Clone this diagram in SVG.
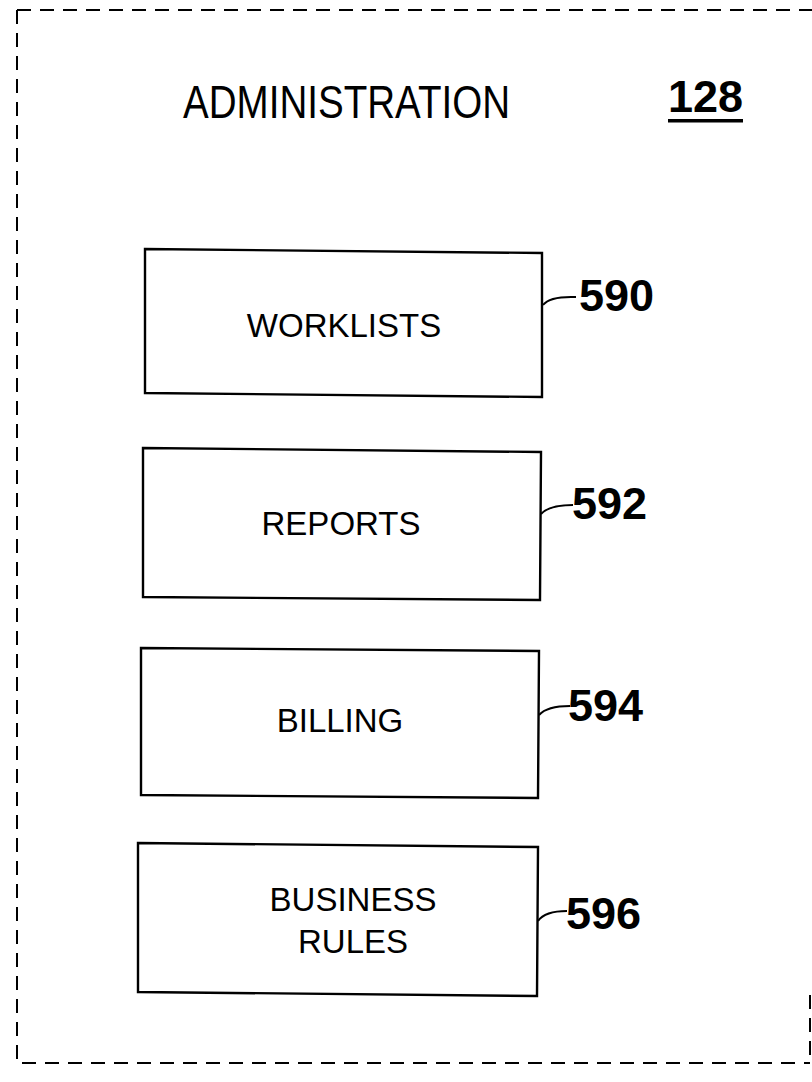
<svg xmlns="http://www.w3.org/2000/svg" width="812" height="1082" viewBox="0 0 812 1082">
  <style>
    .frame { fill: none; stroke: #000; stroke-width: 2; stroke-dasharray: 14 9; }
    .box { fill: #fff; stroke: #000; stroke-width: 2.4; }
    .lead { fill: none; stroke: #000; stroke-width: 2; }
    .label { font-family: "Liberation Sans", Arial, sans-serif; font-size: 33px; fill: #000; text-anchor: middle; }
    .ref { font-family: "Liberation Sans", Arial, sans-serif; font-size: 45px; font-weight: bold; fill: #000; }
    .title { font-family: "Liberation Sans", Arial, sans-serif; font-size: 47px; fill: #000; }
  </style>
  <rect width="812" height="1082" fill="#fff"/>

  <!-- dashed module boundary -->
  <g id="frame">
    <path class="frame" d="M17 10 H812 M17 10 V1063 H810 M810 995 V1063"/>
  </g>

  <!-- module heading -->
  <g id="heading">
    <text class="title" x="183" y="118" textLength="327" lengthAdjust="spacingAndGlyphs">ADMINISTRATION</text>
    <text class="ref" x="668" y="112" font-size="44">128</text>
    <rect x="668" y="119" width="75" height="3.5" fill="#000"/>
  </g>

  <g id="worklists">
    <polygon class="box" points="145,249 542,253 542,397 145,393"/>
    <text class="label" x="344" y="337">WORKLISTS</text>
  </g>

  <g id="reports">
    <polygon class="box" points="143,448 541,452 540,600 143,597"/>
    <text class="label" x="341" y="535">REPORTS</text>
  </g>

  <g id="billing">
    <polygon class="box" points="141,648 539,651 538,798 141,795"/>
    <text class="label" x="340" y="732">BILLING</text>
  </g>

  <g id="business-rules">
    <polygon class="box" points="138,843 538,847 537,996 138,992"/>
    <text class="label" x="353" y="911">BUSINESS</text>
    <text class="label" x="353" y="953">RULES</text>
  </g>

  <!-- reference numerals and their leader lines -->
  <g id="connectors">
    <path class="lead" d="M543 305 Q550 296 576 297"/>
    <path class="lead" d="M541 514 Q549 505 573 505"/>
    <path class="lead" d="M539 715 Q547 706 570 706"/>
    <path class="lead" d="M538 921 Q545 911 567 911"/>
  </g>

  <g id="refs">
    <text class="ref" x="579" y="311">590</text>
    <text class="ref" x="572" y="519">592</text>
    <text class="ref" x="568" y="721">594</text>
    <text class="ref" x="566" y="929">596</text>
  </g>
</svg>
